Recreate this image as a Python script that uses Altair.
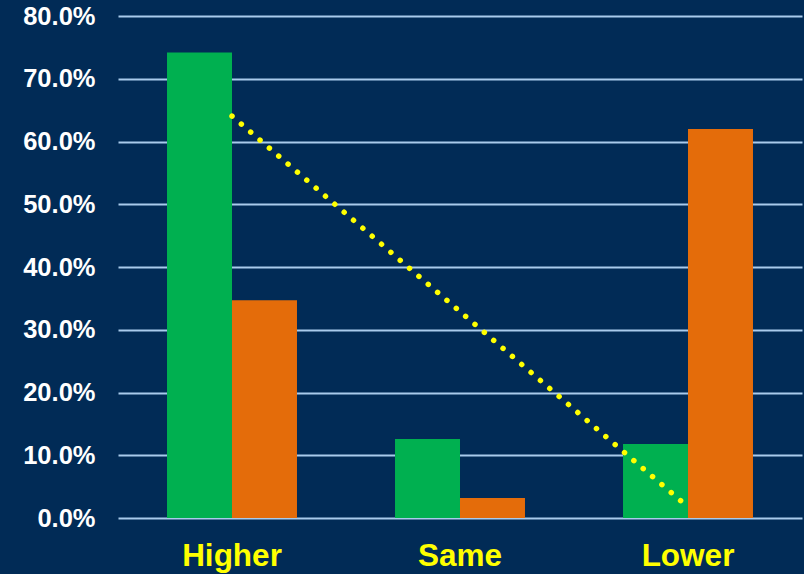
import altair as alt
import pandas as pd

categories = ["Higher", "Same", "Lower"]
series = ["A", "B"]
green_vals = [0.742, 0.126, 0.118]
orange_vals = [0.347, 0.032, 0.620]
trend_cats = ["Higher", "Lower"]
trend_vals = [0.6405, 0.0175]
y_ticks = [0.0, 0.1, 0.2, 0.3, 0.4, 0.5, 0.6, 0.7, 0.8]

rows = []
for c, g, o in zip(categories, green_vals, orange_vals):
    rows.append({"cat": c, "series": "A", "value": g})
    rows.append({"cat": c, "series": "B", "value": o})
bars_df = pd.DataFrame(rows)
trend_df = pd.DataFrame({"cat": trend_cats, "value": trend_vals})

BG = "#012b56"
GRID = "#a9cbec"

x_scale = alt.Scale(domain=categories, paddingInner=0.43, paddingOuter=0.215)
y_scale = alt.Scale(domain=[0, 0.8], nice=False)

bars = alt.Chart(bars_df).mark_bar(size=65).encode(
    x=alt.X("cat:N", scale=x_scale, sort=categories,
            axis=alt.Axis(title=None, labelAngle=0, labelColor="#ffff00",
                          labelFont="Liberation Sans", labelFontSize=31.5,
                          labelFontWeight="bold", labelPadding=22,
                          ticks=False, domain=False, grid=False)),
    xOffset=alt.XOffset("series:N", sort=series),
    y=alt.Y("value:Q", scale=y_scale,
            axis=alt.Axis(title=None, values=y_ticks, format=".1%",
                          labelColor="#ffffff", labelFont="Liberation Sans",
                          labelFontSize=25.5, labelFontWeight="bold",
                          labelPadding=23, ticks=False, domain=False,
                          grid=True, gridColor=GRID, gridWidth=2,
                          gridOpacity=1)),
    color=alt.Color("series:N", scale=alt.Scale(domain=series,
                    range=["#00b050", "#e46c0a"]), legend=None),
)

trend = alt.Chart(trend_df).mark_line(
    color="#ffff00", strokeWidth=5.5, strokeCap="round",
    strokeDash=[0.01, 12.3]
).encode(
    x=alt.X("cat:N", scale=x_scale, sort=categories),
    y=alt.Y("value:Q", scale=y_scale),
)

chart = alt.layer(bars, trend).properties(
    width=684, height=502,
    autosize=alt.AutoSizeParams(type="none"),
    padding={"left": 118, "top": 16, "right": 2, "bottom": 56},
    background=BG,
).configure_view(stroke=None)

chart.save("out.html", embed_options={"renderer": "svg", "actions": False})
